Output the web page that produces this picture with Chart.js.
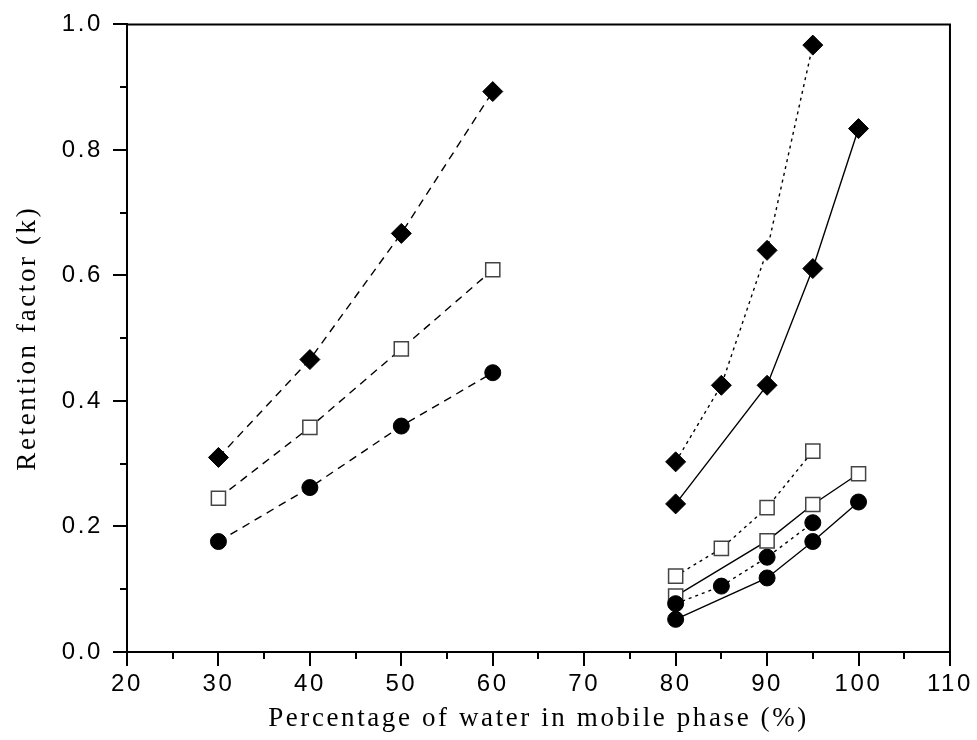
<!DOCTYPE html>
<html>
<head>
<meta charset="utf-8">
<title>Retention factor vs water percentage</title>
<script src="https://cdn.jsdelivr.net/npm/chart.js@4"></script>
<style>
    html, body { margin: 0; padding: 0; background: #fff; }
    #wrap { width: 977px; height: 740px; }
</style>
</head>
<body>
<div id="wrap"><canvas id="chart" width="977" height="740"></canvas></div>
<script>
/* ============================================================
   Retention factor (k) vs percentage of water in mobile phase
   ============================================================ */

// x 值（水的百分比）
var X_LOW   = [30, 40, 50, 60];
var X_HIGH  = [80, 85, 90, 95];
var X_HIGH2 = [80, 90, 95, 100];

// 左侧一组（虚线）
var LOW_DIAMOND = [0.310, 0.466, 0.667, 0.893];
var LOW_SQUARE  = [0.245, 0.358, 0.483, 0.609];
var LOW_CIRCLE  = [0.176, 0.262, 0.360, 0.445];

// 右侧一组（点线）
var DOT_DIAMOND = [0.303, 0.425, 0.640, 0.967];
var DOT_SQUARE  = [0.121, 0.165, 0.230, 0.320];
var DOT_CIRCLE  = [0.077, 0.105, 0.151, 0.206];

// 右侧一组（实线）
var SOLID_DIAMOND = [0.236, 0.425, 0.611, 0.834];
var SOLID_SQUARE  = [0.089, 0.177, 0.235, 0.284];
var SOLID_CIRCLE  = [0.052, 0.118, 0.176, 0.239];

// 坐标轴
var X_MIN = 20, X_MAX = 110, X_STEP = 5;
var Y_MIN = 0,  Y_MAX = 1,   Y_STEP = 0.1;

var DASHED = [8, 6];
var DOTTED = [3, 4];
var SOLID  = [];


function toPoints(xs, ys) {
    return xs.map(function (x, i) { return { x: x, y: ys[i] }; });
}

function makeSet(xs, ys, marker, dash) {
    var ds = {
        data: toPoints(xs, ys),
        borderColor: "#000",
        borderWidth: 1.4,
        borderDash: dash,
        pointBorderWidth: 1,
        pointHoverRadius: 0,
        tension: 0,
        fill: false
    };
    if (marker === "diamond") {
        ds.pointStyle = "rectRot";
        ds.pointRadius = 10;
        ds.pointBackgroundColor = "#000";
        ds.pointBorderColor = "#000";
    } else if (marker === "square") {
        ds.pointStyle = "rect";
        ds.pointRadius = 10;
        ds.pointBackgroundColor = "#fff";
        ds.pointBorderColor = "#444";
        ds.pointBorderWidth = 1.5;
    } else {
        ds.pointStyle = "circle";
        ds.pointRadius = 8;
        ds.pointBackgroundColor = "#000";
        ds.pointBorderColor = "#000";
    }
    return ds;
}

var datasets = [
    makeSet(X_LOW,   LOW_DIAMOND,   "diamond", DASHED),
    makeSet(X_LOW,   LOW_SQUARE,    "square",  DASHED),
    makeSet(X_LOW,   LOW_CIRCLE,    "circle",  DASHED),
    makeSet(X_HIGH,  DOT_DIAMOND,   "diamond", DOTTED),
    makeSet(X_HIGH,  DOT_SQUARE,    "square",  DOTTED),
    makeSet(X_HIGH,  DOT_CIRCLE,    "circle",  DOTTED),
    makeSet(X_HIGH2, SOLID_DIAMOND, "diamond", SOLID),
    makeSet(X_HIGH2, SOLID_SQUARE,  "square",  SOLID),
    makeSet(X_HIGH2, SOLID_CIRCLE,  "circle",  SOLID)
];


// 主刻度判断
function isMajorX(v) { return Math.round(v) % 10 === 0; }
function isMajorY(v) { return Math.round(v * 10) % 2 === 0; }


// ============================================================
// 插件：字距、上/右边框、次刻度
// ============================================================

var framePlugin = {
    id: "frame",
    beforeLayout: function (chart) { chart.ctx.letterSpacing = "2.6px"; },
    beforeDraw:   function (chart) { chart.ctx.letterSpacing = "2.6px"; },
    afterDraw: function (chart) {
        var ctx  = chart.ctx;
        var area = chart.chartArea;
        var xs   = chart.scales.x;
        var ys   = chart.scales.y;

        ctx.save();
        ctx.strokeStyle = "#000";
        ctx.lineWidth = 2;
        ctx.beginPath();
        ctx.moveTo(area.left, area.top);
        ctx.lineTo(area.right, area.top);
        ctx.lineTo(area.right, area.bottom);
        ctx.stroke();

        // 次刻度（朝外，短一些）
        ctx.beginPath();
        xs.ticks.forEach(function (t) {
            if (isMajorX(t.value)) return;
            var px = Math.round(xs.getPixelForValue(t.value));
            ctx.moveTo(px, area.bottom);
            ctx.lineTo(px, area.bottom + 7);
        });
        ys.ticks.forEach(function (t) {
            if (isMajorY(t.value)) return;
            var py = Math.round(ys.getPixelForValue(t.value));
            ctx.moveTo(area.left, py);
            ctx.lineTo(area.left - 7, py);
        });
        ctx.stroke();
        ctx.restore();
    }
};


// ============================================================
// 图表
// ============================================================

var ctx = document.getElementById("chart").getContext("2d");

new Chart(ctx, {
    type: "line",
    data: { datasets: datasets },
    plugins: [framePlugin],
    options: {
        responsive: false,
        animation: false,
        layout: { padding: { top: 21, right: 26, left: 0, bottom: 0 } },
        plugins: {
            legend:  { display: false },
            tooltip: { enabled: false }
        },
        scales: {
            x: {
                type: "linear",
                min: X_MIN,
                max: X_MAX,
                afterFit: function (scale) { scale.height = 88; },
                border: { display: true, color: "#000", width: 2 },
                grid: {
                    drawOnChartArea: false,
                    drawTicks: true,
                    tickLength: 14,
                    lineWidth: 2,
                    tickColor: function (c) {
                        return c.tick && isMajorX(c.tick.value) ? "#000" : "rgba(0,0,0,0)";
                    }
                },
                ticks: {
                    stepSize: X_STEP,
                    autoSkip: false,
                    maxRotation: 0,
                    padding: 4,
                    color: "#000",
                    font: { family: "Liberation Sans, Arial", size: 24 },
                    callback: function (v) { return isMajorX(v) ? String(Math.round(v)) : ""; }
                },
                title: {
                    display: true,
                    text: "Percentage of water in mobile phase (%)",
                    color: "#000",
                    font: { family: "Liberation Serif, Times New Roman", size: 27 },
                    padding: { top: 0, bottom: 5 }
                }
            },
            y: {
                type: "linear",
                min: Y_MIN,
                max: Y_MAX,
                afterFit: function (scale) { scale.width = 127; },
                border: { display: true, color: "#000", width: 2 },
                grid: {
                    drawOnChartArea: false,
                    drawTicks: true,
                    tickLength: 14,
                    lineWidth: 2,
                    tickColor: function (c) {
                        return c.tick && isMajorY(c.tick.value) ? "#000" : "rgba(0,0,0,0)";
                    }
                },
                ticks: {
                    stepSize: Y_STEP,
                    autoSkip: false,
                    padding: 10,
                    color: "#000",
                    font: { family: "Liberation Sans, Arial", size: 24 },
                    callback: function (v) { return isMajorY(v) ? v.toFixed(1) : ""; }
                },
                title: {
                    display: true,
                    text: "Retention factor (k)",
                    color: "#000",
                    font: { family: "Liberation Serif, Times New Roman", size: 27 },
                    padding: { top: 12, bottom: 0 }
                }
            }
        }
    }
});
</script>
</body>
</html>
